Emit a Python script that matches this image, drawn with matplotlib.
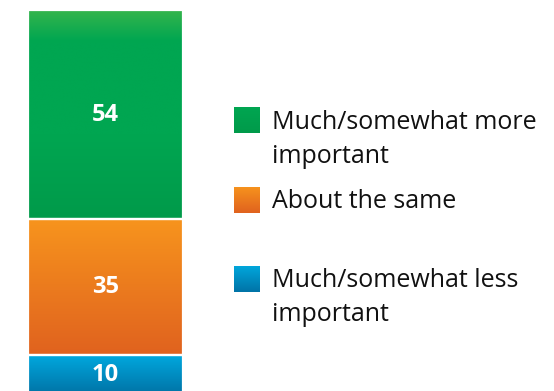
import matplotlib.pyplot as plt
import numpy as np
from matplotlib.colors import LinearSegmentedColormap

# Share of respondents, stacked bottom to top
categories = [
    ["Much/somewhat less", "important"],
    ["About the same"],
    ["Much/somewhat more", "important"],
]
values = [10, 35, 54]
gradients = [
    [(0.0, "#00a8de"), (1.0, "#0073a6")],
    [(0.0, "#f7941d"), (1.0, "#e0621f")],
    [(0.0, "#36b54c"), (0.15, "#00a651"), (0.6, "#00a651"), (1.0, "#009a4a")],
]

plt.rcParams["font.family"] = ["Open Sans", "DejaVu Sans"]

fig = plt.figure(figsize=(5.54, 3.91), dpi=100)
ax = fig.add_axes([0, 0, 1, 1])
ax.axis("off")


def gradient_fill(target, extent, colors):
    cmap = LinearSegmentedColormap.from_list("g", colors)
    grad = np.linspace(0, 1, 256).reshape(-1, 1)
    target.imshow(grad, cmap=cmap, aspect="auto", extent=extent,
                  origin="upper", interpolation="bicubic", zorder=1)


bottom = 0
for val, cols in zip(values, gradients):
    bars = ax.bar(0, val, width=1.0, bottom=bottom, color="none",
                  edgecolor="white", linewidth=1.6, zorder=3)
    r = bars[0]
    gradient_fill(ax, [r.get_x(), r.get_x() + r.get_width(), bottom, bottom + val], cols)
    ax.text(0, bottom + val / 2, str(val), ha="center", va="center",
            color="white", fontsize=17, fontweight="bold", zorder=4)
    bottom += val

ax.set_xlim(-0.681, 2.894)
ax.set_ylim(0.77, 101.6)

# Legend: gradient squares with wrapped labels, top entry first
W, H = 554, 391
legend_rows = [
    (2, 107, 129),
    (1, 187, 208),
    (0, 266, 287),
]
line_gap = 34
for idx, sq_top, baseline in legend_rows:
    sq = fig.add_axes([234 / W, 1 - (sq_top + 26) / H, 26 / W, 26 / H])
    sq.axis("off")
    cols = gradients[idx] if idx != 2 else ["#00a651", "#009a4a"]
    gradient_fill(sq, [0, 1, 0, 1], cols)
    sq.set_xlim(0, 1)
    sq.set_ylim(0, 1)
    for k, line in enumerate(categories[idx]):
        fig.text(272 / W, 1 - (baseline + k * line_gap) / H, line,
                 ha="left", va="baseline", fontsize=18, color="#111111")

fig.savefig("out.png", dpi=100)
